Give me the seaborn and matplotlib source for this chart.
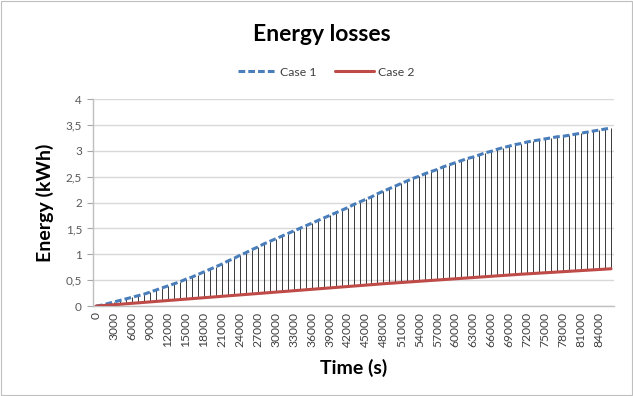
import matplotlib
matplotlib.use("Agg")
import matplotlib.pyplot as plt
import seaborn as sns
import pandas as pd
from matplotlib.patches import Rectangle
from matplotlib.lines import Line2D

# Time samples (s), one every 1000 s over the day
time_s = list(range(0, 87000, 1000))

# Cumulative energy losses (kWh)
case1 = [
    0.00, 0.02, 0.05, 0.08, 0.11, 0.14, 0.17, 0.20, 0.23, 0.27,
    0.31, 0.35, 0.39, 0.43, 0.47, 0.52, 0.56, 0.61, 0.66, 0.71,
    0.76, 0.81, 0.87, 0.92, 0.98, 1.03, 1.09, 1.14, 1.20, 1.25,
    1.30, 1.35, 1.40, 1.45, 1.50, 1.55, 1.60, 1.65, 1.70, 1.75,
    1.80, 1.85, 1.90, 1.96, 2.01, 2.06, 2.11, 2.17, 2.22, 2.27,
    2.32, 2.37, 2.42, 2.47, 2.51, 2.56, 2.60, 2.64, 2.69, 2.73,
    2.77, 2.81, 2.85, 2.88, 2.92, 2.96, 2.99, 3.03, 3.06, 3.09,
    3.12, 3.14, 3.17, 3.19, 3.21, 3.23, 3.25, 3.27, 3.28, 3.30,
    3.32, 3.34, 3.36, 3.38, 3.40, 3.42, 3.44,
]
case2 = [
    0.000, 0.009, 0.018, 0.027, 0.036, 0.045, 0.054, 0.063, 0.072, 0.081,
    0.090, 0.099, 0.108, 0.117, 0.126, 0.135, 0.144, 0.153, 0.162, 0.171,
    0.180, 0.189, 0.198, 0.207, 0.216, 0.225, 0.234, 0.243, 0.252, 0.261,
    0.270, 0.279, 0.288, 0.297, 0.306, 0.315, 0.324, 0.333, 0.342, 0.351,
    0.360, 0.369, 0.378, 0.387, 0.396, 0.405, 0.414, 0.423, 0.432, 0.440,
    0.448, 0.456, 0.464, 0.472, 0.480, 0.488, 0.496, 0.504, 0.512, 0.520,
    0.528, 0.536, 0.544, 0.552, 0.560, 0.568, 0.576, 0.584, 0.592, 0.600,
    0.608, 0.616, 0.623, 0.630, 0.637, 0.644, 0.651, 0.658, 0.665, 0.672,
    0.679, 0.686, 0.693, 0.700, 0.707, 0.714, 0.721,
]
series_names = ["Case 1", "Case 2"]
y_ticks = [0, 0.5, 1, 1.5, 2, 2.5, 3, 3.5, 4]

sns.set_theme(style="white")
plt.rcParams["font.family"] = ["Lato", "DejaVu Sans"]

idx = list(range(len(time_s)))
df = pd.DataFrame({"idx": idx + idx,
                   "energy": case1 + case2,
                   "series": [series_names[0]] * len(idx) + [series_names[1]] * len(idx)})

fig = plt.figure(figsize=(6.33, 3.96), dpi=100)
fig.patches.append(Rectangle((0.001, 0.002), 0.997, 0.996, transform=fig.transFigure,
                             fill=False, edgecolor="#bfbfbf", linewidth=0.8))
ax = fig.add_axes([0.147, 0.227, 0.823, 0.523])

# High-low lines between the two series
ax.vlines(idx, case2, case1, colors="#1a1a1a", linewidth=0.6, zorder=2)

palette = {"Case 1": "#4a7ebb", "Case 2": "#be4b48"}
sns.lineplot(data=df, x="idx", y="energy", hue="series", style="series",
             palette=palette, dashes={"Case 1": (2.2, 1.0), "Case 2": ""},
             linewidth=2.2, ax=ax, legend=False, zorder=3)

ax.set_xlim(-0.5, len(idx) - 0.5)
ax.set_ylim(0, 4)
ax.set_yticks(y_ticks)
ax.set_yticklabels([f"{v:g}".replace(".", ",") for v in y_ticks], color="#595959", fontsize=8.5)
ax.set_xticks(idx[::3])
ax.set_xticklabels([str(t) for t in time_s[::3]], rotation=90, color="#404040", fontsize=8.7)
ax.tick_params(axis="y", length=4, width=0.8, color="#a6a6a6", pad=4, left=True)
ax.tick_params(axis="x", length=0, pad=4)

ax.grid(axis="y", color="#d9d9d9", linewidth=1.0)
ax.set_axisbelow(True)
for side in ["top", "right"]:
    ax.spines[side].set_visible(False)
for side in ["left", "bottom"]:
    ax.spines[side].set_color("#bfbfbf")
    ax.spines[side].set_linewidth(1.0)

ax.set_xlabel("Time (s)", fontsize=14, fontweight="bold", color="#000000", labelpad=9)
ax.set_ylabel("Energy (kWh)", fontsize=14, fontweight="bold", color="#000000", labelpad=8)

fig.text(0.508, 0.912, "Energy losses", ha="center", va="center",
         fontsize=16.5, fontweight="bold", color="#000000")

# Legend drawn from the series styles
handles = [Line2D([], [], color=palette["Case 1"], linewidth=2.2, dashes=(2.2, 1.0)),
           Line2D([], [], color=palette["Case 2"], linewidth=2.2)]
fig.legend(handles, series_names, loc="center", bbox_to_anchor=(0.515, 0.818), ncol=2,
           frameon=False, fontsize=8.8, handlelength=3.2, handletextpad=0.3,
           columnspacing=1.5, labelcolor="#404040")

fig.savefig("out.png", dpi=100)
